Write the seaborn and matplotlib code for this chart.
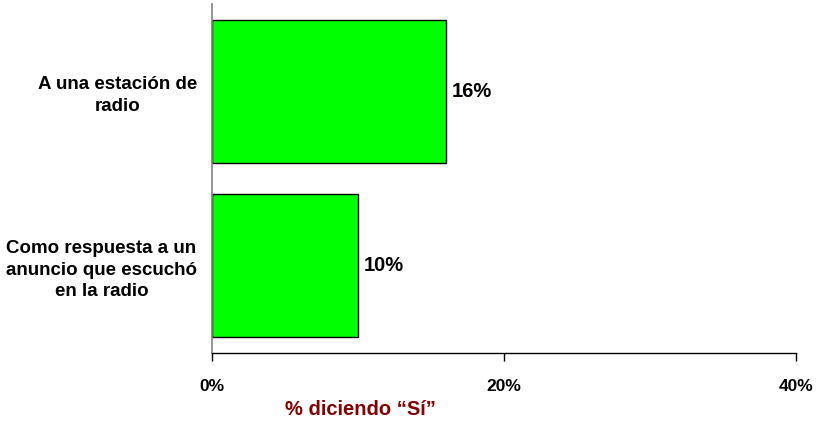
import matplotlib
matplotlib.use('Agg')
import matplotlib.pyplot as plt
import pandas as pd
import seaborn as sns

categories = ['A una estación de\nradio', 'Como respuesta a un\nanuncio que escuchó\nen la radio']
values = [16, 10]
xticks = [0, 20, 40]
xticklabels = ['0%', '20%', '40%']

df = pd.DataFrame({'cat': categories, 'pct': values})

sns.set_style('white')
plt.rcParams['font.family'] = ['Liberation Sans', 'DejaVu Sans']
plt.rcParams['font.weight'] = 'bold'
plt.rcParams['text.color'] = 'black'
plt.rcParams['xtick.color'] = 'black'
plt.rcParams['ytick.color'] = 'black'

fig = plt.figure(figsize=(8.19, 4.26), dpi=100)
ax = fig.add_axes([212 / 819, 1 - 353 / 426, (796 - 212) / 819, (353 - 4) / 426])

sns.barplot(data=df, x='pct', y='cat', orient='h', color='#00FF00', saturation=1,
            edgecolor='black', linewidth=1, width=0.82, ax=ax)

for i, v in enumerate(values):
    ax.text(v + 0.4, i, f'{v}%', va='center', ha='left', fontsize=14.5,
            fontweight='bold', color='black')

ax.set_xlim(0, 40)
ax.set_ylim(1.5, -0.5)
ax.set_xticks(xticks)
ax.set_xticklabels(xticklabels, fontsize=12.5, fontweight='bold', color='black')
ax.set_yticks(range(len(categories)))
ax.set_yticklabels(categories, fontsize=13.5, fontweight='bold', ha='right',
                   multialignment='center', linespacing=1.35, color='black')
ax.tick_params(axis='y', length=0, pad=10.8)
ax.tick_params(axis='x', bottom=True, length=6, width=1, direction='out', pad=13, color='black')

ax.set_xlabel('% diciendo “Sí”', fontsize=14.5, fontweight='bold', color='#800000')
ax.set_ylabel('')
ax.xaxis.set_label_coords(0.254, -0.135)

for s in ['top', 'right']:
    ax.spines[s].set_visible(False)
ax.spines['left'].set_color('#808080')
ax.spines['left'].set_linewidth(1.2)
ax.spines['bottom'].set_color('black')
ax.spines['bottom'].set_linewidth(1)

fig.savefig('out.png', dpi=100)
